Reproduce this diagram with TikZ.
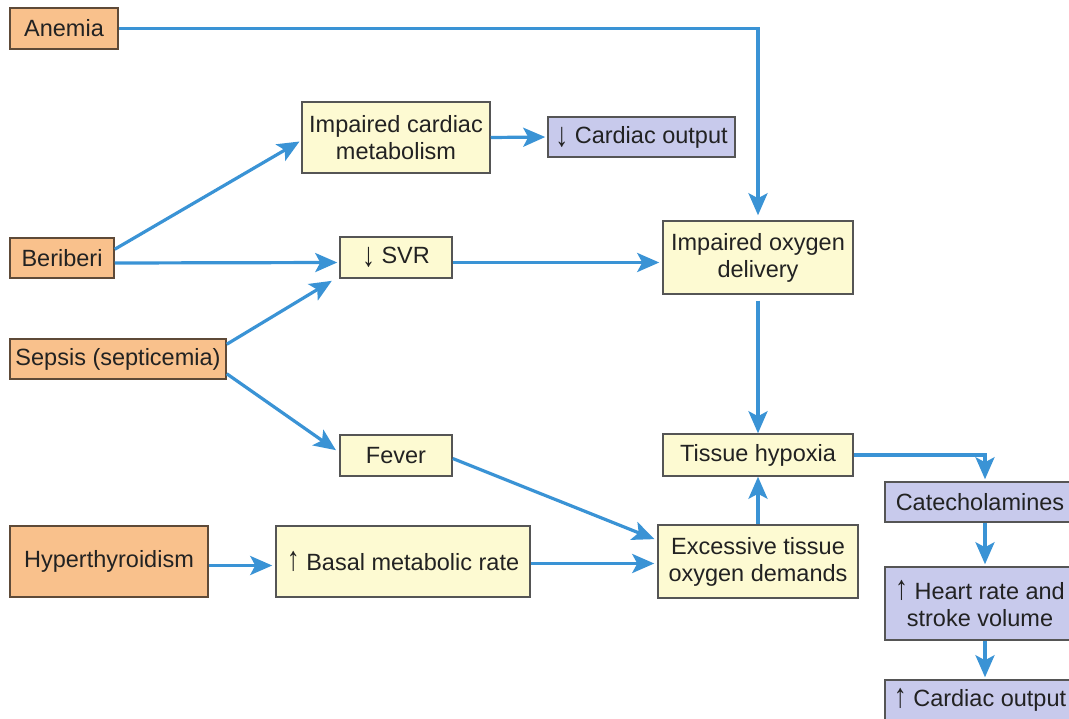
\documentclass[tikz,border=0pt]{standalone}
\usepackage{fontspec}
\setmainfont{Liberation Sans}
\usetikzlibrary{arrows.meta}

\definecolor{causefill}{HTML}{F9C18C}
\definecolor{causeline}{HTML}{5E4A38}
\definecolor{stepfill}{HTML}{FDFAD2}
\definecolor{resultfill}{HTML}{C8CAEC}
\definecolor{boxline}{HTML}{555555}
\definecolor{linkblue}{HTML}{3A93D5}
\definecolor{ink}{HTML}{222222}

% taller, thinner arrows for up/down in labels
\newcommand{\upar}{\raisebox{-0.5pt}{\scalebox{1.1}[1.45]{↑}}}
\newcommand{\downar}{\raisebox{-3pt}{\scalebox{1.1}[1.45]{↓}}}

\tikzset{
  box/.style={draw=boxline, line width=1.5pt, inner sep=0pt, align=center,
    text=ink, font=\fontsize{23.5}{27}\selectfont},
  cause/.style={box, fill=causefill, draw=causeline},
  stepbox/.style={box, fill=stepfill},
  result/.style={box, fill=resultfill},
  link/.style={draw=linkblue, line width=3.2pt,
    -{Stealth[length=22pt,width=19pt,inset=5pt]}},
}

\begin{document}
\begin{tikzpicture}[x=1pt, y=-1pt]
\useasboundingbox (0,0) rectangle (1069,719);
\clip (0,0) rectangle (1069,719);

% causes on the left
\node[cause, minimum width=108pt, minimum height=41pt] (anemia) at (64,28.5) {Anemia};
\node[cause, minimum width=104pt, minimum height=40pt] (beriberi) at (62,258) {Beriberi};
\node[cause, minimum width=216pt, minimum height=40pt] (sepsis) at (118,359) {Sepsis (septicemia)};
\node[cause, minimum width=198pt, minimum height=71pt] (hyper) at (109,561.5) {Hyperthyroidism};

% intermediate steps
\node[stepbox, minimum width=188pt, minimum height=71pt] (cardmet) at (396,137.5) {Impaired cardiac\\metabolism};
\node[result, minimum width=187pt, minimum height=40pt] (cardout) at (641.5,137) {\downar\ Cardiac output};
\node[stepbox, minimum width=112pt, minimum height=41pt] (svr) at (396,257.5) {\downar\ SVR};
\node[stepbox, minimum width=112pt, minimum height=41pt] (fever) at (396,455.5) {Fever};
\node[stepbox, minimum width=254pt, minimum height=71pt] (bmr) at (403,561.5) {\upar\ Basal metabolic rate};
\node[stepbox, minimum width=190pt, minimum height=73pt] (delivery) at (758,257.5) {Impaired oxygen\\delivery};
\node[stepbox, minimum width=190pt, minimum height=42pt] (hypoxia) at (758,455) {Tissue hypoxia};
\node[stepbox, minimum width=200pt, minimum height=73pt] (demand) at (758,561.5) {Excessive tissue\\oxygen demands};

% compensation column
\node[result, minimum width=190pt, minimum height=40pt] (catechol) at (980,502) {Catecholamines};
\node[result, minimum width=190pt, minimum height=73pt] (heart) at (980,603.5) {\upar\ Heart rate and\\stroke volume};
\node[result, minimum width=190pt, minimum height=40pt] (output) at (980,700) {\upar\ Cardiac output};

% connectors
\draw[link, shorten >=5pt] (anemia.east) -| (delivery.north);
\draw[link, shorten >=2pt] ([yshift=-12pt]beriberi.north east) -- ([yshift=-3pt]cardmet.west);
\draw[link, shorten >=2pt] ([yshift=-5pt]beriberi.east) -- ([yshift=-5pt]svr.west);
\draw[link, shorten >=4pt] ([yshift=-6pt]sepsis.north east) -- ([xshift=-4pt]svr.south west);
\draw[link, shorten >=4pt] ([yshift=6pt]sepsis.south east) -- ([yshift=3pt]fever.west);
\draw[link, shorten >=2pt] (cardmet.east) -- (cardout.west);
\draw[link, shorten >=3pt] ([yshift=-5pt]svr.east) -- ([yshift=-5pt]delivery.west);
\draw[link, shorten <=6pt] (delivery.south) -- (hypoxia.north);
\draw[link] (demand.north) -- (hypoxia.south);
\draw[link, shorten >=3pt] ([yshift=-3pt]fever.east) -- ([yshift=-16pt]demand.north west);
\draw[link, shorten >=3pt] ([yshift=-2pt]bmr.east) -- ([yshift=-2pt]demand.west);
\draw[link, shorten >=3pt] ([yshift=-4pt]hyper.east) -- ([yshift=-4pt]bmr.west);
\draw[link, shorten >=2pt] (hypoxia.east) -| ([xshift=5pt]catechol.north);
\draw[link, shorten >=2pt] ([xshift=5pt]catechol.south) -- ([xshift=5pt]heart.north);
\draw[link, shorten >=2pt] ([xshift=5pt]heart.south) -- ([xshift=5pt]output.north);
\end{tikzpicture}
\end{document}
